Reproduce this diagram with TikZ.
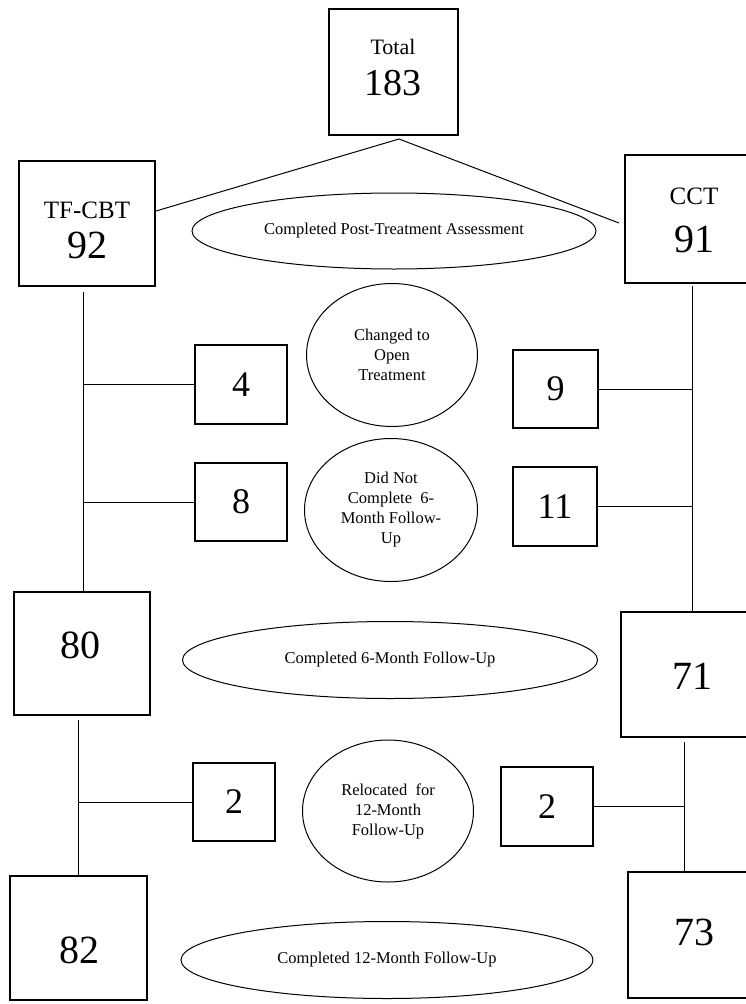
\documentclass[tikz,border=0pt]{standalone}
\usepackage{fontspec}
\setmainfont{Liberation Serif}
\usetikzlibrary{shapes.geometric}
\begin{document}
\begin{tikzpicture}[x=1pt,y=-1pt,
  box/.style={draw,line width=1.2pt,inner sep=0pt},
  oval/.style={draw,ellipse,line width=1pt,inner sep=0pt,align=center},
  conn/.style={line width=1pt},
  lbl/.style={inner sep=0pt,anchor=center},
  smalltxt/.style={font=\fontsize{16.5}{20}\selectfont},
  midnum/.style={font=\fontsize{36}{36}\selectfont},
  bignum/.style={font=\fontsize{40}{40}\selectfont},
  head/.style={font=\fontsize{25}{25}\selectfont},
]
\useasboundingbox (0,0) rectangle (746,1004);
\fill[white] (0,0) rectangle (746,1004);

% boxes
\node[box,minimum width=129pt,minimum height=126pt] (total) at (393.5,72) {};
\node[box,minimum width=136pt,minimum height=125pt] (tfcbt) at (87,223.5) {};
\node[box,minimum width=127pt,minimum height=128pt] (cct) at (688.5,219) {};
\node[box,midnum,minimum width=92pt,minimum height=79pt] (box4) at (241,384.5) {4};
\node[box,midnum,minimum width=85pt,minimum height=78pt] (box9) at (555.5,389) {9};
\node[box,midnum,minimum width=92pt,minimum height=78pt] (box8) at (241,502) {8};
\node[box,midnum,minimum width=84pt,minimum height=79pt] (box11) at (555,506.5) {11};
\node[box,minimum width=136pt,minimum height=123pt] (box80) at (82,653.5) {};
\node[box,minimum width=131pt,minimum height=125pt] (box71) at (686.5,674.5) {};
\node[box,midnum,minimum width=82pt,minimum height=78pt] (box2L) at (234,802) {2};
\node[box,midnum,minimum width=92pt,minimum height=79pt] (box2R) at (547,806.5) {2};
\node[box,minimum width=137pt,minimum height=124pt] (box82) at (78.5,938) {};
\node[box,minimum width=124pt,minimum height=126pt] (box73) at (690,935) {};

% box labels
\node[lbl,font=\fontsize{22}{22}\selectfont] (ttotal) at (393,47) {Total};
\node[lbl,font=\fontsize{38}{38}\selectfont] (n183) at (393,83) {183};
\node[lbl,head] (ttf) at (87,210) {TF-CBT};
\node[lbl,bignum] (n92) at (87,245) {92};
\node[lbl,head] (tcct) at (694,196) {CCT};
\node[lbl,bignum] (n91) at (694,239) {91};
\node[lbl,bignum] (n80) at (80,645) {80};
\node[lbl,bignum] (n71) at (692,676) {71};
\node[lbl,bignum] (n82) at (79,950) {82};
\node[lbl,bignum] (n73) at (694,932) {73};

% ellipses
\node[oval,smalltxt,minimum width=404pt,minimum height=76pt] (e1) at (394,231) {Completed Post-Treatment Assessment};
\node[oval,smalltxt,minimum width=415pt,minimum height=77pt] (e2) at (390,660) {Completed 6-Month Follow-Up};
\node[oval,smalltxt,minimum width=412pt,minimum height=77pt] (e3) at (387,960) {Completed 12-Month Follow-Up};
\node[oval,smalltxt,minimum width=171pt,minimum height=143pt] (c1) at (392,355) {Changed to\\Open\\Treatment};
\node[oval,smalltxt,minimum width=173pt,minimum height=143pt] (c2) at (391,510) {Did Not\\Complete\ \ 6-\\Month Follow-\\Up};
\node[oval,smalltxt,minimum width=171pt,minimum height=142pt] (c3) at (388,811) {Relocated\ \ for\\12-Month\\Follow-Up};

% connectors
\coordinate (top) at (399,139);
\coordinate (tfin) at (156,211);
\coordinate (cctin) at (619,223);
\draw[conn] (tfin) -- (top) -- (cctin);

\coordinate (ls1) at (83,292);
\draw[conn] (ls1) -- (ls1 |- box80.north);
\draw[conn] (ls1 |- box4.west) -- (box4.west);
\draw[conn] (ls1 |- box8.west) -- (box8.west);

\coordinate (rs1) at (692,286);
\draw[conn] (rs1) -- (rs1 |- box71.north);
\draw[conn] (box9.east) -- (box9.east -| rs1);
\draw[conn] (box11.east) -- (box11.east -| rs1);

\coordinate (ls2) at (78,720);
\draw[conn] (ls2) -- (ls2 |- box82.north);
\draw[conn] (ls2 |- box2L.west) -- (box2L.west);

\coordinate (rs2) at (684,742);
\draw[conn] (rs2) -- (rs2 |- box73.north);
\draw[conn] (box2R.east) -- (box2R.east -| rs2);
\end{tikzpicture}
\end{document}
